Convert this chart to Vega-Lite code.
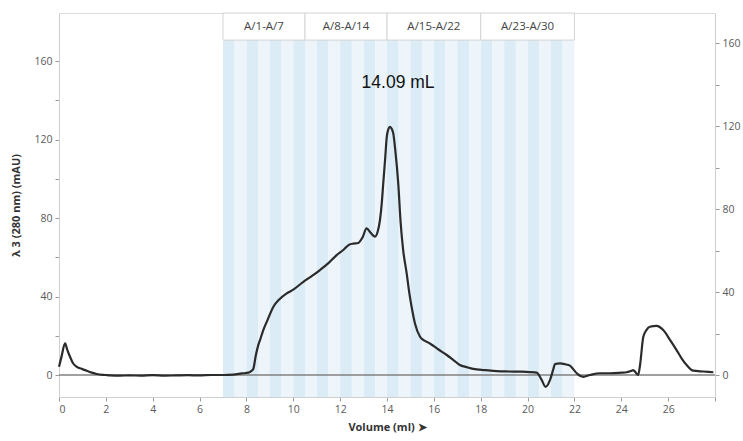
{
  "$schema": "https://vega.github.io/schema/vega-lite/v6.json",
  "width": 656,
  "height": 384,
  "autosize": {"type": "none"},
  "padding": {"left": 59, "top": 13, "right": 28, "bottom": 44},
  "config": {
    "view": {"stroke": "#dcdcdc", "strokeWidth": 1},
    "font": "Open Sans",
    "axis": {
      "grid": false,
      "domainColor": "#cfcfcf",
      "tickColor": "#9a9a9a",
      "tickSize": 4,
      "labelColor": "#5a5a5a",
      "labelFont": "Open Sans",
      "labelFontSize": 10.5,
      "titleFont": "Open Sans",
      "titleColor": "#333333",
      "titleFontSize": 11,
      "titleFontWeight": "bold"
    }
  },
  "datasets": {
    "trace": [
      {"v": 0, "a": 4.2}, {"v": 0.1, "a": 9}, {"v": 0.26, "a": 16.1}, {"v": 0.35, "a": 13}, {"v": 0.47, "a": 9.3},
      {"v": 0.6, "a": 6}, {"v": 0.76, "a": 4.2}, {"v": 1.0, "a": 3}, {"v": 1.18, "a": 2.2}, {"v": 1.4, "a": 1.2},
      {"v": 1.61, "a": 0.5}, {"v": 2.0, "a": 0}, {"v": 2.18, "a": -0.2}, {"v": 2.6, "a": -0.3}, {"v": 3.0, "a": -0.2},
      {"v": 3.5, "a": -0.3}, {"v": 4.0, "a": -0.1}, {"v": 4.5, "a": -0.3}, {"v": 5.0, "a": -0.2}, {"v": 5.5, "a": -0.1},
      {"v": 6.0, "a": -0.2}, {"v": 6.5, "a": 0}, {"v": 7.0, "a": 0}, {"v": 7.44, "a": 0.2}, {"v": 7.8, "a": 0.8},
      {"v": 8.08, "a": 1.2}, {"v": 8.2, "a": 2}, {"v": 8.29, "a": 3}, {"v": 8.4, "a": 10}, {"v": 8.5, "a": 15},
      {"v": 8.58, "a": 17.8}, {"v": 8.72, "a": 22.9}, {"v": 8.9, "a": 28}, {"v": 9.15, "a": 34.8}, {"v": 9.4, "a": 38.5},
      {"v": 9.72, "a": 41.6}, {"v": 10.0, "a": 43.5}, {"v": 10.43, "a": 47.5}, {"v": 10.8, "a": 50.5}, {"v": 11.14, "a": 53.5},
      {"v": 11.5, "a": 57}, {"v": 11.85, "a": 61.1}, {"v": 12.13, "a": 63.7}, {"v": 12.28, "a": 65.4}, {"v": 12.4, "a": 66.5},
      {"v": 12.56, "a": 67}, {"v": 12.77, "a": 67.3}, {"v": 12.95, "a": 70}, {"v": 13.13, "a": 74.7}, {"v": 13.3, "a": 72.5},
      {"v": 13.49, "a": 70.5}, {"v": 13.6, "a": 73}, {"v": 13.7, "a": 79}, {"v": 13.78, "a": 88}, {"v": 13.84, "a": 97.7},
      {"v": 13.92, "a": 110}, {"v": 13.99, "a": 121.4}, {"v": 14.05, "a": 125}, {"v": 14.13, "a": 126.5}, {"v": 14.2, "a": 125.5},
      {"v": 14.27, "a": 123}, {"v": 14.35, "a": 115}, {"v": 14.48, "a": 97.7}, {"v": 14.58, "a": 78}, {"v": 14.69, "a": 63.7},
      {"v": 14.84, "a": 51.8}, {"v": 14.95, "a": 42}, {"v": 15.05, "a": 34.8}, {"v": 15.2, "a": 26}, {"v": 15.41, "a": 19.5},
      {"v": 15.6, "a": 17.5}, {"v": 15.83, "a": 16.1}, {"v": 16.2, "a": 13}, {"v": 16.55, "a": 10.2}, {"v": 16.85, "a": 7.5},
      {"v": 17.11, "a": 5.1}, {"v": 17.4, "a": 4}, {"v": 17.68, "a": 3.1}, {"v": 18.2, "a": 2.5}, {"v": 18.68, "a": 2.0},
      {"v": 19.2, "a": 1.8}, {"v": 19.68, "a": 1.7}, {"v": 20.1, "a": 1.5}, {"v": 20.39, "a": 1.2}, {"v": 20.6, "a": -2.5},
      {"v": 20.77, "a": -6}, {"v": 20.96, "a": -2.5}, {"v": 21.1, "a": 3}, {"v": 21.17, "a": 5.6}, {"v": 21.38, "a": 5.9},
      {"v": 21.6, "a": 5.5}, {"v": 21.81, "a": 4.8}, {"v": 21.95, "a": 3}, {"v": 22.1, "a": 0.9}, {"v": 22.38, "a": -0.9},
      {"v": 22.66, "a": 0}, {"v": 23.09, "a": 0.9}, {"v": 23.52, "a": 0.9}, {"v": 24.0, "a": 1.2}, {"v": 24.23, "a": 1.4},
      {"v": 24.4, "a": 2}, {"v": 24.51, "a": 2.5}, {"v": 24.6, "a": 1.5}, {"v": 24.72, "a": 0}, {"v": 24.8, "a": 5},
      {"v": 24.94, "a": 19.5}, {"v": 25.08, "a": 23}, {"v": 25.22, "a": 24.6}, {"v": 25.5, "a": 25}, {"v": 25.79, "a": 22.9},
      {"v": 26.1, "a": 17.5}, {"v": 26.36, "a": 12.7}, {"v": 26.6, "a": 8}, {"v": 26.79, "a": 5.1}, {"v": 27.07, "a": 2.2},
      {"v": 27.5, "a": 1.8}, {"v": 27.93, "a": 1.4}
    ],
    "fractions": [
      {"f": 1, "s": 7.0, "e": 7.5, "shade": "d"}, {"f": 2, "s": 7.5, "e": 8.0, "shade": "l"},
      {"f": 3, "s": 8.0, "e": 8.5, "shade": "d"}, {"f": 4, "s": 8.5, "e": 9.0, "shade": "l"},
      {"f": 5, "s": 9.0, "e": 9.5, "shade": "d"}, {"f": 6, "s": 9.5, "e": 10.0, "shade": "l"},
      {"f": 7, "s": 10.0, "e": 10.5, "shade": "d"}, {"f": 8, "s": 10.5, "e": 11.0, "shade": "l"},
      {"f": 9, "s": 11.0, "e": 11.5, "shade": "d"}, {"f": 10, "s": 11.5, "e": 12.0, "shade": "l"},
      {"f": 11, "s": 12.0, "e": 12.5, "shade": "d"}, {"f": 12, "s": 12.5, "e": 13.0, "shade": "l"},
      {"f": 13, "s": 13.0, "e": 13.5, "shade": "d"}, {"f": 14, "s": 13.5, "e": 14.0, "shade": "l"},
      {"f": 15, "s": 14.0, "e": 14.5, "shade": "d"}, {"f": 16, "s": 14.5, "e": 15.0, "shade": "l"},
      {"f": 17, "s": 15.0, "e": 15.5, "shade": "d"}, {"f": 18, "s": 15.5, "e": 16.0, "shade": "l"},
      {"f": 19, "s": 16.0, "e": 16.5, "shade": "d"}, {"f": 20, "s": 16.5, "e": 17.0, "shade": "l"},
      {"f": 21, "s": 17.0, "e": 17.5, "shade": "d"}, {"f": 22, "s": 17.5, "e": 18.0, "shade": "l"},
      {"f": 23, "s": 18.0, "e": 18.5, "shade": "d"}, {"f": 24, "s": 18.5, "e": 19.0, "shade": "l"},
      {"f": 25, "s": 19.0, "e": 19.5, "shade": "d"}, {"f": 26, "s": 19.5, "e": 20.0, "shade": "l"},
      {"f": 27, "s": 20.0, "e": 20.5, "shade": "d"}, {"f": 28, "s": 20.5, "e": 21.0, "shade": "l"},
      {"f": 29, "s": 21.0, "e": 21.5, "shade": "d"}, {"f": 30, "s": 21.5, "e": 22.0, "shade": "l"}
    ],
    "groups": [
      {"label": "A/1-A/7", "s": 7.0, "e": 10.5},
      {"label": "A/8-A/14", "s": 10.5, "e": 14.0},
      {"label": "A/15-A/22", "s": 14.0, "e": 18.0},
      {"label": "A/23-A/30", "s": 18.0, "e": 22.0}
    ],
    "peak": [{"v": 14.09, "a": 149, "text": "14.09 mL"}],
    "right": [{"r": 0}, {"r": 160}]
  },
  "layer": [
    {
      "layer": [
        {
          "data": {"name": "fractions"},
          "mark": {"type": "rect"},
          "encoding": {
            "x": {"field": "s", "type": "quantitative", "scale": {"domain": [0, 28], "nice": false, "zero": false},
              "axis": {
                "title": "Volume (ml) ➤",
                "values": [0,1,2,3,4,5,6,7,8,9,10,11,12,13,14,15,16,17,18,19,20,21,22,23,24,25,26,27,28],
                "labelExpr": "datum.value % 2 == 0 && datum.value < 28 ? datum.label : ''",
                "labelPadding": 3,
                "titlePadding": 7
              }},
            "x2": {"field": "e"},
            "y": {"datum": 170.7, "type": "quantitative", "scale": {"domain": [-11.2, 184.5], "nice": false, "zero": false},
              "axis": {
                "title": "λ 3 (280 nm) (mAU)",
                "values": [0, 20, 40, 60, 80, 100, 120, 140, 160],
                "labelExpr": "datum.value % 40 == 0 ? datum.label : ''",
                "labelPadding": 3,
                "titlePadding": 12
              }},
            "y2": {"datum": -11.2},
            "color": {"field": "shade", "type": "nominal", "scale": {"domain": ["d", "l"], "range": ["#dcecf6", "#edf5fa"]}, "legend": null}
          }
        },
        {
          "data": {"name": "groups"},
          "mark": {"type": "rect", "fill": "#ffffff", "stroke": "#d4d4d4", "strokeWidth": 1},
          "encoding": {
            "x": {"field": "s", "type": "quantitative"},
            "x2": {"field": "e"},
            "y": {"datum": 184.5, "type": "quantitative"},
            "y2": {"datum": 170.7}
          }
        },
        {
          "data": {"name": "groups"},
          "transform": [{"calculate": "(datum.s + datum.e) / 2", "as": "mid"}],
          "mark": {"type": "text", "font": "Open Sans", "fontSize": 11.5, "color": "#444444", "baseline": "middle"},
          "encoding": {
            "x": {"field": "mid", "type": "quantitative"},
            "y": {"datum": 177.6, "type": "quantitative"},
            "text": {"field": "label"}
          }
        },
        {
          "data": {"name": "peak"},
          "mark": {"type": "rule", "color": "#808080", "strokeWidth": 1.3},
          "encoding": {"y": {"datum": 0, "type": "quantitative"}}
        },
        {
          "data": {"name": "trace"},
          "mark": {"type": "line", "color": "#2b2b2b", "strokeWidth": 2.2, "interpolate": "monotone"},
          "encoding": {
            "x": {"field": "v", "type": "quantitative"},
            "y": {"field": "a", "type": "quantitative"}
          }
        },
        {
          "data": {"name": "peak"},
          "mark": {"type": "text", "font": "Liberation Sans", "fontSize": 17.5, "color": "#111111", "dx": 9, "baseline": "middle"},
          "encoding": {
            "x": {"field": "v", "type": "quantitative"},
            "y": {"field": "a", "type": "quantitative"},
            "text": {"field": "text"}
          }
        }
      ]
    },
    {
      "data": {"name": "right"},
      "mark": {"type": "point", "opacity": 0},
      "encoding": {
        "y": {"field": "r", "type": "quantitative", "scale": {"domain": [-10.6, 174.5], "nice": false, "zero": false},
          "axis": {
            "orient": "right",
            "title": null,
            "values": [0, 20, 40, 60, 80, 100, 120, 140, 160],
            "labelExpr": "datum.value % 40 == 0 ? datum.label : ''",
            "labelPadding": 3
          }}
      }
    }
  ],
  "resolve": {"scale": {"y": "independent"}}
}
